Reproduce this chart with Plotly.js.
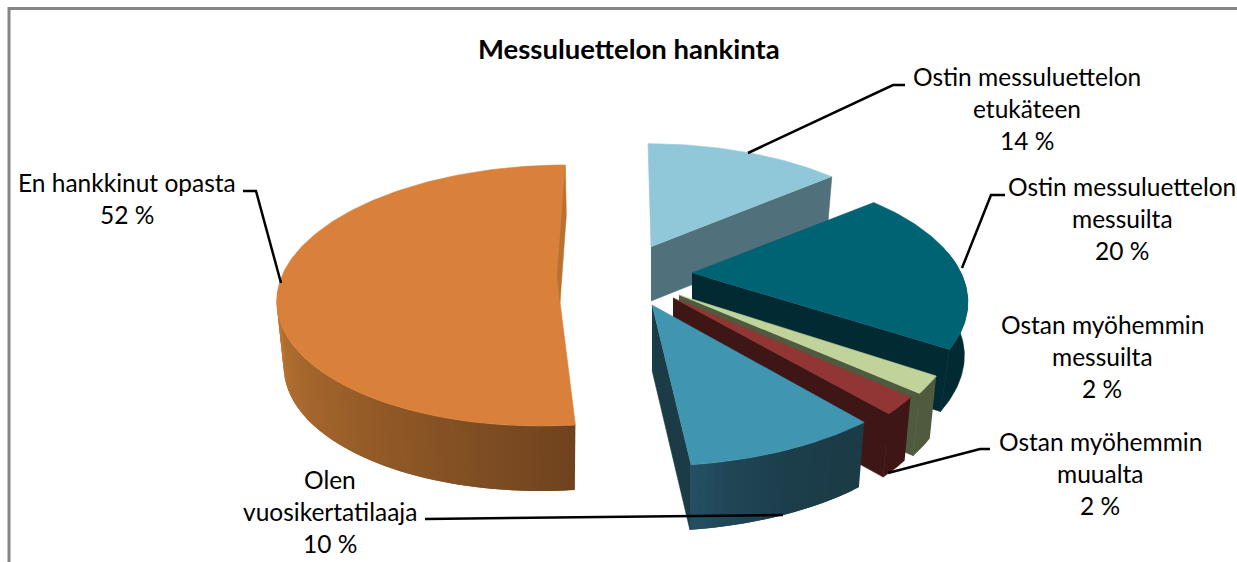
<!DOCTYPE html>
<html>
<head>
<meta charset="utf-8">
<script src="https://cdn.plot.ly/plotly-3.0.1.min.js"></script>
<style>html,body{margin:0;padding:0;background:#fff;overflow:hidden}#chart{width:1237px;height:562px}</style>
</head>
<body>
<div id="chart"></div>
<script>
// ---------- data ----------
const chartTitle = "Messuluettelon hankinta";
const categories = [
  "Ostin messuluettelon etukäteen",
  "Ostin messuluettelon messuilta",
  "Ostan myöhemmin messuilta",
  "Ostan myöhemmin muualta",
  "Olen vuosikertatilaaja",
  "En hankkinut opasta"
];
const shares = [14, 20, 2, 2, 10, 52];
const labelLines = [
  ["Ostin messuluettelon", "etukäteen"],
  ["Ostin messuluettelon", "messuilta"],
  ["Ostan myöhemmin", "messuilta"],
  ["Ostan myöhemmin", "muualta"],
  ["Olen", "vuosikertatilaaja"],
  ["En hankkinut opasta"]
];

// ---------- styling and projection of each exploded slice ----------
const topColors  = ["#90c8da", "#006373", "#c0d39a", "#913634", "#4096b0", "#d9813b"];
const sideColors = ["#50707b", "#012a33", "#4f5a3e", "#3e1615", "#1b3b47", "#b8722f"];
const wallLight  = [null, null, null, null, [36, 80, 100], [190, 118, 50]];
const wallDark   = [null, null, null, null, [27, 59, 71], [111, 67, 31]];
const wallCurve  = [1, 1, 1, 1, 2.5, 1];
const apexX = [651, 692, 679, 673, 652, 560];
const apexY = [247, 273, 295, 298, 305, 302];
const arcCX = [651, 692, 679, 673, 652, 553];
const arcCY = [247, 273, 295, 298, 305, 295.5];
const radX  = [269, 269, 272, 269, 310, 276];
const radY  = [125, 126, 135, 136, 161, 130.5];
const persp = [0.21, 0.22, 0.2, 0.2, 0, 0];
const lean  = [3.6, 0, 0, 0, 0, -12.3];
const depth = [54, 62, 62, 63, 65, 65];
const wallScale = [0.975, 1, 0.975, 0.975, 0.975, 0.975];
const wallSlope = [0, 0.065, 0, 0, 0, 0];
const labelX = [1027, 1122, 1102, 1100, 330, 127];
const labelY = [76, 186, 324, 441, 479, 182];
const lineStep = 32;
const leaders = [
  "M748,153 L893,85 L905,85",
  "M962,268 L991,195 L1005,195",
  "M888,473 L980,449 L990,449",
  "M425,519 L783,515",
  "M243,191 L256,191 L281,283"
];

// ---------- geometry derived from the shares ----------
const rad = d => d * Math.PI / 180;
function rim(i, deg) {
  const X = Math.sin(rad(deg)), Y = -Math.cos(rad(deg));
  const s = 1 / (1 - persp[i] * Y);
  return [arcCX[i] + (radX[i] * X + lean[i] * Y) * s, arcCY[i] + radY[i] * Y * s];
}
function rimLow(i, deg) {
  const p = rim(i, deg), Y = -Math.cos(rad(deg));
  const f = wallScale[i] - wallSlope[i] * Y;
  return [arcCX[i] + (p[0] - arcCX[i]) * f, p[1] + depth[i]];
}
function poly(points, color, w) {
  return {
    type: "scatter", mode: "lines", fill: "toself", fillcolor: color,
    x: points.map(p => p[0]), y: points.map(p => p[1]),
    line: {color: color, width: w === undefined ? 0.6 : w}, hoverinfo: "skip", showlegend: false
  };
}
function range(a, b, step) {
  const out = [];
  for (let d = a; d < b; d += step) out.push(d);
  out.push(b);
  return out;
}
const total = shares.reduce((a, b) => a + b, 0);
const traces = [];
let cum = 0;
const starts = [], ends = [];
shares.forEach(v => { starts.push(cum / total * 360); cum += v; ends.push(cum / total * 360); });

[0, 1, 2, 3, 5, 4].forEach(i => {
  const a = starts[i], b = ends[i];
  const apex = [apexX[i], apexY[i]];
  const apexLow = [apex[0], apex[1] + depth[i]];
  const arc = range(a, b, 1).map(d => rim(i, d));

  if (i < 5) {
    traces.push(poly([apex, rim(i, b), rimLow(i, b), apexLow], sideColors[i]));
  }
  // outer wall: only the arc that faces the viewer
  const wa = Math.max(a, 80), wb = Math.min(b, 272);
  if (wb > wa) {
    if (wallLight[i]) {
      const ds = range(wa, wb, 1.5);
      for (let k = 0; k < ds.length - 1; k++) {
        const mid = (ds[k] + ds[k + 1]) / 2;
        // share of the way from the dark end of the wall to its light end
        const t = Math.pow((mid - wa) / (wb - wa), wallCurve[i]);
        const c = wallLight[i].map((v, n) => Math.round(wallDark[i][n] + (v - wallDark[i][n]) * t));
        // each band overlaps the next one, which paints over it, so no seams show
        const d0 = ds[k], d1 = Math.min(ds[k + 1] + 1.5, wb);
        const band = range(d0, d1, 0.75);
        const upper = band.map(d => rim(i, d));
        const under = band.slice().reverse().map(d => rimLow(i, d));
        traces.push(poly(upper.concat(under), "rgb(" + c.join(",") + ")", 0));
      }
    } else {
      const ds = range(wa, wb, 1);
      traces.push(poly(ds.map(d => rim(i, d)).concat(ds.slice().reverse().map(d => rimLow(i, d))), sideColors[i]));
    }
  }
  traces.push(poly([apex].concat(arc), topColors[i]));
  if (i === 5) {
    // the thin back edge of the large slice, seen beside its top face
    const e = rim(i, b);
    traces.push(poly([e, [e[0] + 1, e[1] + 50], apex, [apex[0] - 3, apex[1] - 27]], sideColors[i]));
  }
});

// ---------- text ----------
const font = {family: "Lato, Carlito, 'Open Sans', sans-serif", size: 24.5, color: "#000000"};
const annotations = [];
labelLines.forEach((lines, i) => {
  lines.concat([shares[i] + " %"]).forEach((t, n) => {
    annotations.push({
      xref: "x", yref: "y", x: labelX[i], y: labelY[i] + n * lineStep,
      text: t, showarrow: false, xanchor: "center", yanchor: "middle", font: font
    });
  });
});
annotations.push({
  xref: "x", yref: "y", x: 629, y: 48, text: "<b>" + chartTitle + "</b>",
  showarrow: false, xanchor: "center", yanchor: "middle",
  font: {family: font.family, size: 27.5, color: "#000000"}
});

const shapes = leaders.map(p => ({
  type: "path", xref: "x", yref: "y", path: p, layer: "above",
  line: {color: "#000000", width: 2.5}
}));
shapes.push({
  type: "path", xref: "x", yref: "y", path: "M9,562 L9,8.5 L1237,8.5", layer: "above",
  line: {color: "#868686", width: 3}
});

Plotly.newPlot("chart", traces, {
  width: 1237, height: 562,
  margin: {l: 0, r: 0, t: 0, b: 0, pad: 0},
  paper_bgcolor: "#ffffff", plot_bgcolor: "#ffffff",
  showlegend: false,
  xaxis: {range: [0, 1237], visible: false, fixedrange: true},
  yaxis: {range: [562, 0], visible: false, fixedrange: true},
  annotations: annotations, shapes: shapes
}, {displayModeBar: false, staticPlot: true});
</script>
</body>
</html>
